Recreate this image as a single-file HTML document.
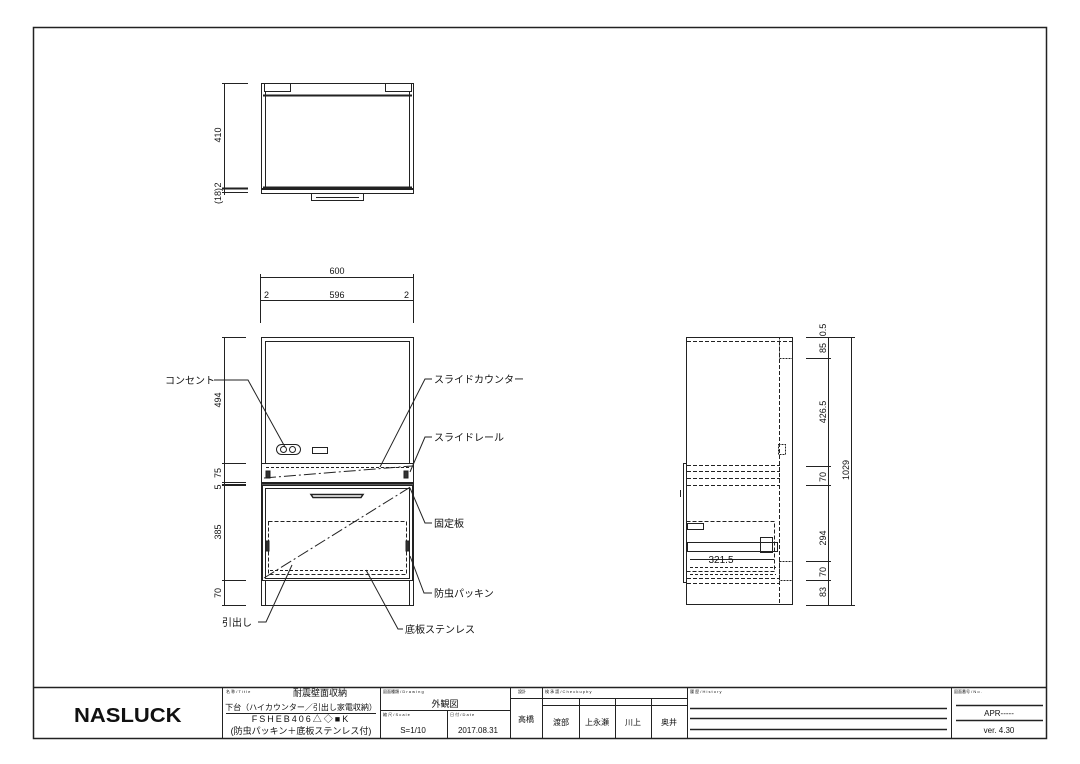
<!DOCTYPE html><html><head><meta charset="utf-8"><style>
html,body{margin:0;padding:0;background:#fff}
svg{display:block}
text{font-family:"Liberation Sans","Noto Sans CJK JP",sans-serif;fill:#111}
</style></head><body>
<svg width="1080" height="764" viewBox="0 0 1080 764" xmlns="http://www.w3.org/2000/svg">
<g fill="none" stroke="#222" stroke-width="1">
<rect x="33.5" y="27.5" width="1013" height="711" stroke-width="1.5"/>
<!-- top view -->
<rect x="261.5" y="83.5" width="152" height="105"/>
<line x1="265.5" y1="92" x2="265.5" y2="188"/><line x1="409.5" y1="92" x2="409.5" y2="188"/>
<rect x="264.5" y="83.5" width="26" height="8"/><rect x="385.5" y="83.5" width="26" height="8"/>
<line x1="263" y1="95.5" x2="412" y2="95.5" stroke-width="2"/>
<line x1="263" y1="187.5" x2="412" y2="187.5" stroke-width="2"/>
<rect x="261.5" y="189.5" width="152" height="4"/>
<rect x="311.5" y="193.5" width="52" height="7"/><line x1="316" y1="197.5" x2="359" y2="197.5"/>
<line x1="224.5" y1="83" x2="224.5" y2="195"/>
<line x1="222" y1="83.5" x2="248" y2="83.5"/><line x1="222" y1="188.5" x2="248" y2="188.5" stroke-width="2"/><line x1="222" y1="192.5" x2="248" y2="192.5"/>
<!-- front view dims -->
<line x1="260" y1="277.5" x2="414" y2="277.5"/><line x1="260" y1="300.5" x2="414" y2="300.5"/>
<line x1="260.5" y1="274" x2="260.5" y2="323"/><line x1="413.5" y1="274" x2="413.5" y2="323"/>
<line x1="224.5" y1="337" x2="224.5" y2="605"/>
<line x1="222" y1="337.5" x2="246" y2="337.5"/><line x1="222" y1="463.5" x2="246" y2="463.5"/><line x1="222" y1="482.5" x2="246" y2="482.5"/><line x1="222" y1="485" x2="246" y2="485" stroke-width="2"/><line x1="222" y1="580.5" x2="246" y2="580.5"/><line x1="222" y1="605.5" x2="246" y2="605.5"/>
<!-- front view -->
<rect x="261.5" y="337.5" width="152" height="268"/>
<line x1="265.5" y1="341" x2="265.5" y2="463"/><line x1="409.5" y1="341" x2="409.5" y2="463"/>
<line x1="265" y1="341.5" x2="410" y2="341.5"/>
<rect x="261.5" y="463.5" width="152" height="19"/>
<line x1="266" y1="467.5" x2="410" y2="467.5" stroke-dasharray="3 2"/>
<line x1="262" y1="483.5" x2="413" y2="483.5" stroke-width="2.5"/>
<rect x="262.5" y="485.5" width="150" height="95"/>
<rect x="265.5" y="488.5" width="144" height="90"/>
<path d="M311 494.5 h52 l-2 3 h-48 z" stroke-width="1.5"/>
<rect x="268.5" y="521.5" width="138" height="53" stroke-dasharray="4 2"/>
<line x1="270" y1="570.5" x2="405" y2="570.5" stroke-dasharray="3 2"/>
<line x1="265.5" y1="580" x2="265.5" y2="605"/><line x1="409.5" y1="580" x2="409.5" y2="605"/>
<rect x="276.5" y="444.5" width="24" height="10" rx="5"/><rect x="312.5" y="447.5" width="15" height="6"/>
<circle cx="283.5" cy="449.5" r="3"/><circle cx="292.5" cy="449.5" r="3"/>
<rect x="266" y="471" width="4" height="7" fill="#333"/><rect x="404" y="471" width="4" height="7" fill="#333"/>
<rect x="266" y="541" width="3" height="10" fill="#333"/><rect x="406" y="541" width="3" height="10" fill="#333"/>
<line x1="264" y1="478" x2="412" y2="466" stroke-dasharray="12 3 2 3"/>
<line x1="264" y1="578" x2="412" y2="486" stroke-dasharray="12 3 2 3"/>
<!-- leaders -->
<polyline points="214,380 248,380 285,447"/>
<polyline points="432,379 425,379 380,467"/>
<polyline points="432,437 425,437 410,472"/>
<polyline points="432,523 425,523 410,488"/>
<polyline points="432,593 424,593 410,556"/>
<polyline points="403,629 398,629 366,570"/>
<polyline points="258,622 266,622 292,565"/>
<!-- side view -->
<rect x="686.5" y="337.5" width="106" height="267"/>
<line x1="687" y1="341.5" x2="792" y2="341.5" stroke-dasharray="4 2"/>
<line x1="779.5" y1="341" x2="779.5" y2="604" stroke-dasharray="4 2"/>
<rect x="779.5" y="337.5" width="13" height="21" stroke-dasharray="2 1"/>
<rect x="779.5" y="561.5" width="13" height="19" stroke-dasharray="2 1"/>
<line x1="687" y1="465.5" x2="780" y2="465.5" stroke-dasharray="4 2"/>
<line x1="687" y1="471.5" x2="780" y2="471.5" stroke-dasharray="4 2"/>
<line x1="687" y1="478.5" x2="780" y2="478.5" stroke-dasharray="4 2"/>
<line x1="687" y1="485.5" x2="780" y2="485.5" stroke-dasharray="4 2"/>
<rect x="683.5" y="463.5" width="3" height="119"/>
<line x1="680.5" y1="490" x2="680.5" y2="497"/>
<rect x="686.5" y="521.5" width="88" height="50" stroke-dasharray="4 2"/>
<rect x="687.5" y="523.5" width="16" height="6"/>
<rect x="687.5" y="542.5" width="90" height="9"/>
<rect x="760.5" y="537.5" width="12" height="15"/>
<line x1="690" y1="559.5" x2="774" y2="559.5"/>
<line x1="690" y1="567.5" x2="776" y2="567.5" stroke-dasharray="3 2"/>
<line x1="690" y1="574.5" x2="776" y2="574.5" stroke-dasharray="3 2"/>
<line x1="687" y1="578.5" x2="780" y2="578.5" stroke-dasharray="4 2"/>
<line x1="687" y1="583.5" x2="780" y2="583.5" stroke-dasharray="4 2"/>
<rect x="778.5" y="444.5" width="7" height="10" stroke-dasharray="2 1"/>
<line x1="828.5" y1="337" x2="828.5" y2="605"/><line x1="851.5" y1="337" x2="851.5" y2="605"/>
<g><line x1="806" y1="337.5" x2="855" y2="337.5"/><line x1="806" y1="358.5" x2="831" y2="358.5"/><line x1="806" y1="466.5" x2="831" y2="466.5"/><line x1="806" y1="485.5" x2="831" y2="485.5"/><line x1="806" y1="561.5" x2="831" y2="561.5"/><line x1="806" y1="580.5" x2="831" y2="580.5"/><line x1="806" y1="605.5" x2="855" y2="605.5"/></g>
<!-- title block -->
<line x1="33" y1="687.5" x2="1046" y2="687.5" stroke-width="1.5"/>
<line x1="222.5" y1="687" x2="222.5" y2="738"/><line x1="380.5" y1="687" x2="380.5" y2="738"/>
<line x1="447.5" y1="710" x2="447.5" y2="738"/><line x1="510.5" y1="687" x2="510.5" y2="738"/>
<line x1="542.5" y1="687" x2="542.5" y2="738"/><line x1="579.5" y1="698" x2="579.5" y2="738"/>
<line x1="615.5" y1="698" x2="615.5" y2="738"/><line x1="651.5" y1="698" x2="651.5" y2="738"/>
<line x1="687.5" y1="687" x2="687.5" y2="738"/><line x1="951.5" y1="687" x2="951.5" y2="738"/>
<line x1="380" y1="710.5" x2="510" y2="710.5"/><line x1="510" y1="698.5" x2="542" y2="698.5"/>
<line x1="542" y1="698.5" x2="687" y2="698.5"/><line x1="542" y1="705.5" x2="687" y2="705.5"/>
<line x1="226" y1="713.5" x2="376" y2="713.5"/>
<line x1="690" y1="708.5" x2="947" y2="708.5" stroke-width="1.5"/><line x1="690" y1="718.5" x2="947" y2="718.5" stroke-width="1.5"/><line x1="690" y1="729.5" x2="947" y2="729.5" stroke-width="1.5"/>
<line x1="956" y1="705.5" x2="1043" y2="705.5" stroke-width="1.5"/><line x1="956" y1="720.5" x2="1043" y2="720.5" stroke-width="1.5"/>
</g>
<g font-size="9">
<text transform="translate(221,135) rotate(-90)" text-anchor="middle">410</text>
<text transform="translate(221,185) rotate(-90)" text-anchor="middle">2</text>
<text transform="translate(221,196) rotate(-90)" text-anchor="middle">(18)</text>
<text x="337" y="274" text-anchor="middle">600</text>
<text x="337" y="298" text-anchor="middle">596</text>
<text x="264" y="298">2</text><text x="404" y="298">2</text>
<text transform="translate(221,400) rotate(-90)" text-anchor="middle">494</text>
<text transform="translate(221,473) rotate(-90)" text-anchor="middle">75</text>
<text transform="translate(221,487) rotate(-90)" text-anchor="middle">5</text>
<text transform="translate(221,532) rotate(-90)" text-anchor="middle">385</text>
<text transform="translate(221,593) rotate(-90)" text-anchor="middle">70</text>
<text transform="translate(826,330) rotate(-90)" text-anchor="middle">0.5</text>
<text transform="translate(826,348) rotate(-90)" text-anchor="middle">85</text>
<text transform="translate(826,412) rotate(-90)" text-anchor="middle">426.5</text>
<text transform="translate(826,477) rotate(-90)" text-anchor="middle">70</text>
<text transform="translate(826,538) rotate(-90)" text-anchor="middle">294</text>
<text transform="translate(826,572) rotate(-90)" text-anchor="middle">70</text>
<text transform="translate(826,592) rotate(-90)" text-anchor="middle">83</text>
<text transform="translate(849,470) rotate(-90)" text-anchor="middle">1029</text>
<text x="721" y="563" text-anchor="middle" font-size="10">321.5</text>
</g>
<g font-size="10">
<text x="165" y="384">コンセント</text>
<text x="434" y="383">スライドカウンター</text>
<text x="434" y="441">スライドレール</text>
<text x="434" y="527">固定板</text>
<text x="434" y="597">防虫パッキン</text>
<text x="405" y="633">底板ステンレス</text>
<text x="222" y="626">引出し</text>
</g>
<text x="128" y="722" text-anchor="middle" font-size="20" font-weight="bold" transform="translate(-13,0) scale(1.1,1)">NASLUCK</text>
<g font-size="4" fill="#555"><text x="226" y="693">名 称 / T i t l e</text><text x="383" y="693">図面種類 / D r a w i n g</text><text x="383" y="716">縮 尺 / S c a l e</text><text x="450" y="716">日 付 / D a t e</text><text x="518" y="693">設計</text><text x="545" y="693">検 承 認 / C h e c k  u p  b y</text><text x="690" y="693">履 歴 / H i s t o r y</text><text x="954" y="693">図面番号 / N o .</text></g>
<g font-size="9" text-anchor="middle">
<text x="320" y="696">耐震壁面収納</text>
<text x="301" y="710" font-size="8">下台（ハイカウンター／引出し家電収納）</text>
<text x="301" y="722" style="letter-spacing:2px">FSHEB406△◇■K</text>
<text x="301" y="734">(防虫パッキン＋底板ステンレス付)</text>
<text x="445" y="707">外観図</text>
<text x="413" y="733" font-size="8">S=1/10</text>
<text x="478" y="733" font-size="8">2017.08.31</text>
<text x="526" y="722" font-size="8">高橋</text>
<text x="561" y="725" font-size="8">渡部</text><text x="597" y="725" font-size="8">上永瀬</text><text x="633" y="725" font-size="8">川上</text><text x="669" y="725" font-size="8">奥井</text>
<text x="999" y="716" font-size="8">APR-----</text>
<text x="999" y="733" font-size="8">ver. 4.30</text>
</g>
</svg>
</body></html>
